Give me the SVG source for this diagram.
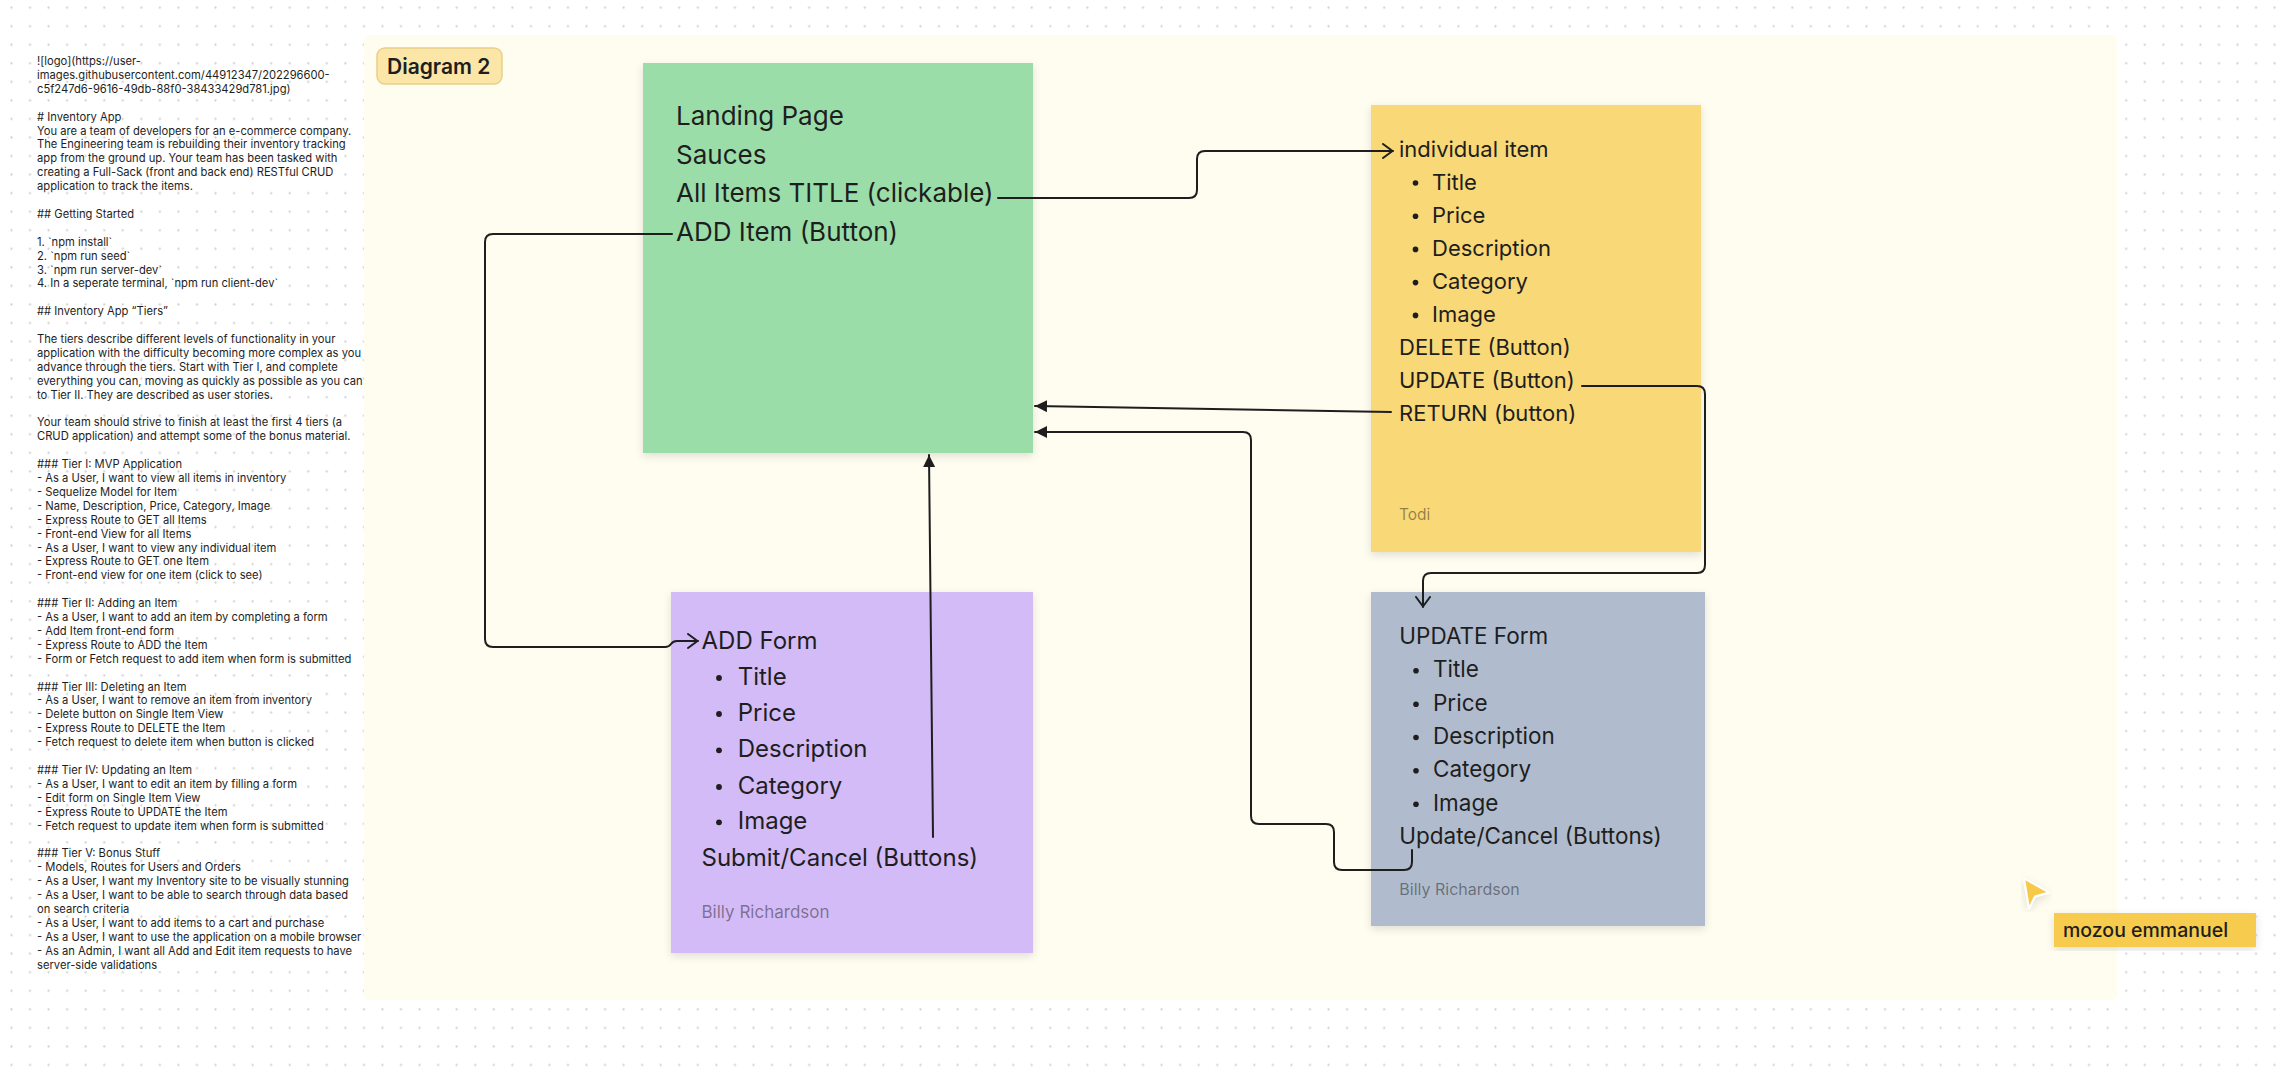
<svg xmlns="http://www.w3.org/2000/svg" width="2288" height="1070" viewBox="0 0 2288 1070">
<defs>
<pattern id="dots" x="2.2" y="-1.6" width="18.55" height="18.55" patternUnits="userSpaceOnUse">
<circle cx="9.275" cy="9.275" r="1.1" fill="#cfcfcf"/>
</pattern>
<filter id="shadow" x="-10%" y="-10%" width="120%" height="120%">
<feDropShadow dx="0" dy="3" stdDeviation="4" flood-color="#000" flood-opacity="0.12"/>
</filter>
<marker id="tri" markerUnits="userSpaceOnUse" markerWidth="14" markerHeight="12" refX="12" refY="6" orient="auto">
<path d="M0,0 L12,6 L0,12 z" fill="#1e1e1e"/>
</marker>
<marker id="open" markerUnits="userSpaceOnUse" markerWidth="14" markerHeight="18" refX="11" refY="8" orient="auto">
<path d="M1,1 L10.5,8 L1,15" fill="none" stroke="#1e1e1e" stroke-width="2" stroke-linecap="round" stroke-linejoin="round"/>
</marker>
<style>
.notes{font-family:Inter,"Liberation Sans",sans-serif;font-size:11.2px;fill:#1e1e1e}
.t{font-family:Inter,"Liberation Sans",sans-serif;fill:#1e1e1e}
.g{font-size:26px}
.y{font-size:22px}
.p{font-size:24px}
.b{font-size:22.5px}
.auth{font-family:Inter,"Liberation Sans",sans-serif;fill:#000;fill-opacity:0.42}
.bul{fill:#1e1e1e}
.con{fill:none;stroke:#1e1e1e;stroke-width:2;stroke-linecap:round;stroke-linejoin:round}
</style>
</defs>
<rect x="0" y="0" width="2288" height="1070" fill="#ffffff"/>
<rect x="0" y="0" width="2288" height="1070" fill="url(#dots)"/>

<g id="notes">
<text class="notes" x="37" y="65">![logo](https://user-</text>
<text class="notes" x="37" y="78.9">images.githubusercontent.com/44912347/202296600-</text>
<text class="notes" x="37" y="92.8">c5f247d6-9616-49db-88f0-38433429d781.jpg)</text>
<text class="notes" x="37" y="120.6"># Inventory App</text>
<text class="notes" x="37" y="134.5">You are a team of developers for an e-commerce company.</text>
<text class="notes" x="37" y="148.4">The Engineering team is rebuilding their inventory tracking</text>
<text class="notes" x="37" y="162.3">app from the ground up. Your team has been tasked with</text>
<text class="notes" x="37" y="176.2">creating a Full-Sack (front and back end) RESTful CRUD</text>
<text class="notes" x="37" y="190.1">application to track the items.</text>
<text class="notes" x="37" y="217.9">## Getting Started</text>
<text class="notes" x="37" y="245.7">1. `npm install`</text>
<text class="notes" x="37" y="259.6">2. `npm run seed`</text>
<text class="notes" x="37" y="273.5">3. `npm run server-dev`</text>
<text class="notes" x="37" y="287.4">4. In a seperate terminal, `npm run client-dev`</text>
<text class="notes" x="37" y="315.2">## Inventory App “Tiers”</text>
<text class="notes" x="37" y="343">The tiers describe different levels of functionality in your</text>
<text class="notes" x="37" y="356.9">application with the difficulty becoming more complex as you</text>
<text class="notes" x="37" y="370.8">advance through the tiers. Start with Tier I, and complete</text>
<text class="notes" x="37" y="384.7">everything you can, moving as quickly as possible as you can</text>
<text class="notes" x="37" y="398.6">to Tier II. They are described as user stories.</text>
<text class="notes" x="37" y="426.4">Your team should strive to finish at least the first 4 tiers (a</text>
<text class="notes" x="37" y="440.3">CRUD application) and attempt some of the bonus material.</text>
<text class="notes" x="37" y="468.1">### Tier I: MVP Application</text>
<text class="notes" x="37" y="482">- As a User, I want to view all items in inventory</text>
<text class="notes" x="37" y="495.9">- Sequelize Model for Item</text>
<text class="notes" x="37" y="509.8">- Name, Description, Price, Category, Image</text>
<text class="notes" x="37" y="523.7">- Express Route to GET all Items</text>
<text class="notes" x="37" y="537.6">- Front-end View for all Items</text>
<text class="notes" x="37" y="551.5">- As a User, I want to view any individual item</text>
<text class="notes" x="37" y="565.4">- Express Route to GET one Item</text>
<text class="notes" x="37" y="579.3">- Front-end view for one item (click to see)</text>
<text class="notes" x="37" y="607.1">### Tier II: Adding an Item</text>
<text class="notes" x="37" y="621">- As a User, I want to add an item by completing a form</text>
<text class="notes" x="37" y="634.9">- Add Item front-end form</text>
<text class="notes" x="37" y="648.8">- Express Route to ADD the Item</text>
<text class="notes" x="37" y="662.7">- Form or Fetch request to add item when form is submitted</text>
<text class="notes" x="37" y="690.5">### Tier III: Deleting an Item</text>
<text class="notes" x="37" y="704.4">- As a User, I want to remove an item from inventory</text>
<text class="notes" x="37" y="718.3">- Delete button on Single Item View</text>
<text class="notes" x="37" y="732.2">- Express Route to DELETE the Item</text>
<text class="notes" x="37" y="746.1">- Fetch request to delete item when button is clicked</text>
<text class="notes" x="37" y="773.9">### Tier IV: Updating an Item</text>
<text class="notes" x="37" y="787.8">- As a User, I want to edit an item by filling a form</text>
<text class="notes" x="37" y="801.7">- Edit form on Single Item View</text>
<text class="notes" x="37" y="815.6">- Express Route to UPDATE the Item</text>
<text class="notes" x="37" y="829.5">- Fetch request to update item when form is submitted</text>
<text class="notes" x="37" y="857.3">### Tier V: Bonus Stuff</text>
<text class="notes" x="37" y="871.2">- Models, Routes for Users and Orders</text>
<text class="notes" x="37" y="885.1">- As a User, I want my Inventory site to be visually stunning</text>
<text class="notes" x="37" y="899">- As a User, I want to be able to search through data based</text>
<text class="notes" x="37" y="912.9">on search criteria</text>
<text class="notes" x="37" y="926.8">- As a User, I want to add items to a cart and purchase</text>
<text class="notes" x="37" y="940.7">- As a User, I want to use the application on a mobile browser</text>
<text class="notes" x="37" y="954.6">- As an Admin, I want all Add and Edit item requests to have</text>
<text class="notes" x="37" y="968.5">server-side validations</text>
</g>

<g id="section">
<rect x="364" y="35" width="1753" height="965" rx="5" fill="#fffcf0"/>
<rect x="377" y="48" width="125" height="36" rx="8" fill="#fbe6a7" stroke="#e9cf8a" stroke-width="1.5"/>
<text class="t" x="387" y="74.3" font-size="21" font-weight="600">Diagram 2</text>
</g>

<g id="landing">
<rect x="643" y="63" width="390" height="390" fill="#9bdda9" filter="url(#shadow)"/>
<text class="t g" x="676" y="125">Landing Page</text>
<text class="t g" x="676" y="163.5">Sauces</text>
<text class="t g" x="676" y="202.3">All Items TITLE (clickable)</text>
<text class="t g" x="676" y="241">ADD Item (Button)</text>
</g>

<g id="individual-item">
<rect x="1371" y="105" width="330" height="447" fill="#f9d877" filter="url(#shadow)"/>
<text class="t y" x="1399" y="156.7">individual item</text>
<circle class="bul" cx="1415.5" cy="183" r="2.8"/>
<text class="t y" x="1432" y="189.5">Title</text>
<circle class="bul" cx="1415.5" cy="216.3" r="2.8"/>
<text class="t y" x="1432" y="222.7">Price</text>
<circle class="bul" cx="1415.5" cy="249.4" r="2.8"/>
<text class="t y" x="1432" y="255.8">Description</text>
<circle class="bul" cx="1415.5" cy="282.6" r="2.8"/>
<text class="t y" x="1432" y="289">Category</text>
<circle class="bul" cx="1415.5" cy="315.4" r="2.8"/>
<text class="t y" x="1432" y="321.8">Image</text>
<text class="t y" x="1399" y="355">DELETE (Button)</text>
<text class="t y" x="1399" y="387.8">UPDATE (Button)</text>
<text class="t y" x="1399" y="421">RETURN (button)</text>
<text class="auth" x="1399" y="520" font-size="15.5">Todi</text>
</g>

<g id="add-form">
<rect x="671" y="592" width="362" height="361" fill="#d3bbf7" filter="url(#shadow)"/>
<text class="t p" x="701.5" y="649">ADD Form</text>
<circle class="bul" cx="719" cy="678" r="2.9"/>
<text class="t p" x="737.7" y="685">Title</text>
<circle class="bul" cx="719" cy="714" r="2.9"/>
<text class="t p" x="737.7" y="721">Price</text>
<circle class="bul" cx="719" cy="750.3" r="2.9"/>
<text class="t p" x="737.7" y="757.3">Description</text>
<circle class="bul" cx="719" cy="787" r="2.9"/>
<text class="t p" x="737.7" y="794">Category</text>
<circle class="bul" cx="719" cy="822.3" r="2.9"/>
<text class="t p" x="737.7" y="829.3">Image</text>
<text class="t p" x="701.5" y="866">Submit/Cancel (Buttons)</text>
<text class="auth" x="701.5" y="918.3" font-size="17">Billy Richardson</text>
</g>

<g id="update-form">
<rect x="1371" y="592" width="334" height="334" fill="#b0bcce" filter="url(#shadow)"/>
<text class="t b" x="1399.3" y="644">UPDATE Form</text>
<circle class="bul" cx="1416" cy="670.8" r="2.8"/>
<text class="t b" x="1433" y="677.3">Title</text>
<circle class="bul" cx="1416" cy="704.2" r="2.8"/>
<text class="t b" x="1433" y="710.7">Price</text>
<circle class="bul" cx="1416" cy="737.5" r="2.8"/>
<text class="t b" x="1433" y="744">Description</text>
<circle class="bul" cx="1416" cy="770.8" r="2.8"/>
<text class="t b" x="1433" y="777.3">Category</text>
<circle class="bul" cx="1416" cy="804.2" r="2.8"/>
<text class="t b" x="1433" y="810.7">Image</text>
<text class="t b" x="1399.3" y="844">Update/Cancel (Buttons)</text>
<text class="auth" x="1399.3" y="895" font-size="16">Billy Richardson</text>
</g>

<g id="connectors">
<path class="con" d="M998,198 H1189 Q1197,198 1197,190 V159 Q1197,151 1205,151 H1393" marker-end="url(#open)"/>
<path class="con" d="M672,234 H493 Q485,234 485,242 V639 Q485,647 493,647 H665 Q669,647 671,644 Q673,641 677,641 H698" marker-end="url(#open)"/>
<path class="con" d="M933,837 L929,455" marker-end="url(#tri)"/>
<path class="con" d="M1391,412 L1035,406" marker-end="url(#tri)"/>
<path class="con" d="M1412,850 V862 Q1412,870 1404,870 H1342 Q1334,870 1334,862 V832 Q1334,824 1326,824 H1259 Q1251,824 1251,816 V440 Q1251,432 1243,432 H1035" marker-end="url(#tri)"/>
<path class="con" d="M1582,386 H1697 Q1705,386 1705,394 V565 Q1705,573 1697,573 H1431 Q1423,573 1423,581 V607" marker-end="url(#open)"/>
</g>

<g id="cursor">
<path d="M2024,878.5 L2049,892.5 L2035,896.5 L2029,908.5 z" fill="#f7c948" stroke="#ffffff" stroke-width="2" stroke-linejoin="round" filter="url(#shadow)"/>
<rect x="2054" y="913" width="202" height="34" fill="#f7cb4d" filter="url(#shadow)"/>
<text class="t" x="2063" y="937.3" font-size="19.5" font-weight="500">mozou emmanuel</text>
</g>
</svg>
